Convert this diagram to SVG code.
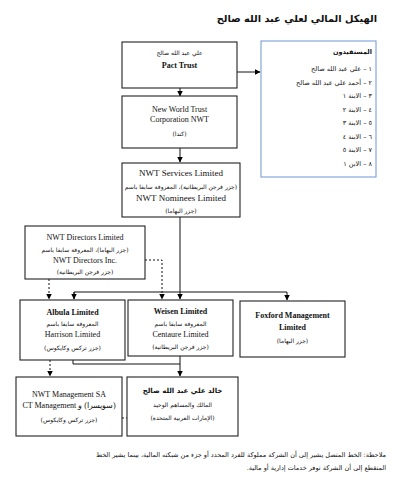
<svg xmlns="http://www.w3.org/2000/svg" width="400" height="483" viewBox="0 0 400 483">
<defs>
<marker id="ah" markerWidth="6" markerHeight="6" refX="5.5" refY="3" orient="auto" markerUnits="userSpaceOnUse">
<path d="M0,0 L6,3 L0,6 z" fill="#000"/>
</marker>
<style>
.box{fill:#fff;stroke:#222;stroke-width:1.1}
.bbox{fill:#fff;stroke:#7b9ed9;stroke-width:1.1}
.en{font-family:"Liberation Serif","Times New Roman",serif;font-size:8px;fill:#111;text-anchor:middle}
.enb{font-family:"Liberation Serif","Times New Roman",serif;font-size:8px;font-weight:bold;fill:#111;text-anchor:middle}
.ar{font-family:"DejaVu Sans","Noto Sans",sans-serif;font-size:6px;fill:#111;text-anchor:middle;direction:rtl;unicode-bidi:embed}
.arr{font-family:"DejaVu Sans","Noto Sans",sans-serif;font-size:6.5px;fill:#111;text-anchor:start;direction:rtl;unicode-bidi:embed}
.sol{fill:none;stroke:#111;stroke-width:1}
.das{fill:none;stroke:#111;stroke-width:1;stroke-dasharray:2,2}
</style>
</defs>
<rect width="400" height="483" fill="#fff"/>
<text class="arr" x="377" y="22" style="font-size:9.8px;font-weight:bold">الهيكل المالي لعلي عبد الله صالح</text>

<g id="connectors">
<path class="sol" d="M180,88 V96" marker-end="url(#ah)"/>
<path class="sol" d="M237,72 H260" marker-end="url(#ah)"/>
<path class="sol" d="M180,148 V162" marker-end="url(#ah)"/>
<path class="sol" d="M180,217 V299" marker-end="url(#ah)"/>
<path class="sol" d="M74,299 V292 H287 V300" marker-end="url(#ah)"/>
<path class="sol" d="M74,292 V299" marker-end="url(#ah)"/>
<path class="das" d="M49,279 V299" marker-end="url(#ah)"/>
<path class="das" d="M145,260 H162 V299" marker-end="url(#ah)"/>
<path class="sol" d="M73,360 V364 H180"/>
<path class="sol" d="M180,356 V376" marker-end="url(#ah)"/>
<path class="das" d="M50,360 V376" marker-end="url(#ah)"/>
<path class="das" d="M122,418 H127"/>
</g>

<g id="pact">
<rect class="box" x="122" y="42" width="115" height="46"/>
<text class="ar" x="179.5" y="55">علي عبد الله صالح</text>
<text class="enb" x="179.5" y="68">Pact Trust</text>
</g>

<g id="beneficiaries">
<rect class="bbox" x="261" y="41" width="115" height="136"/>
<text class="arr" x="372" y="54" style="font-weight:bold">المستفيدون</text>
<text class="arr" x="372" y="71">١ – علي عبد الله صالح</text>
<text class="arr" x="372" y="84.5">٢ – أحمد علي عبد الله صالح</text>
<text class="arr" x="372" y="98">٣ – الابنة ١</text>
<text class="arr" x="372" y="111.5">٤ – الابنة ٢</text>
<text class="arr" x="372" y="125">٥ – الابنة ٣</text>
<text class="arr" x="372" y="138.5">٦ – الابنة ٤</text>
<text class="arr" x="372" y="152">٧ – الابنة ٥</text>
<text class="arr" x="372" y="165.5">٨ – الابن ١</text>
</g>

<g id="nwt">
<rect class="box" x="122" y="96" width="115" height="52"/>
<text class="en" x="179.5" y="112">New World Trust</text>
<text class="en" x="179.5" y="122">Corporation NWT</text>
<text class="ar" x="179.5" y="136">(كندا)</text>
</g>

<g id="nwtservices">
<rect class="box" x="122" y="163" width="118" height="54"/>
<text class="en" x="181" y="176" style="font-size:9px">NWT Services Limited</text>
<text class="ar" x="181" y="189">(جزر فرجن البريطانية)، المعروفة سابقا باسم</text>
<text class="en" x="181" y="201" style="font-size:9px">NWT Nominees Limited</text>
<text class="ar" x="181" y="213">(جزر البهاما)</text>
</g>

<g id="nwtdirectors">
<rect class="box" x="25" y="226" width="120" height="53"/>
<text class="en" x="85" y="240">NWT Directors Limited</text>
<text class="ar" x="85" y="252">(جزر البهاما)، المعروفة سابقا باسم</text>
<text class="en" x="85" y="263">NWT Directors Inc.</text>
<text class="ar" x="85" y="274">(جزر فرجن البريطانية)</text>
</g>

<g id="albula">
<rect class="box" x="20" y="300" width="105" height="60"/>
<text class="enb" x="72.5" y="315">Albula Limited</text>
<text class="ar" x="72.5" y="326">المعروفة سابقا باسم</text>
<text class="en" x="72.5" y="337">Harrison Limited</text>
<text class="ar" x="72.5" y="350">(جزر تركس وكايكوس)</text>
</g>

<g id="weisen">
<rect class="box" x="128" y="300" width="105" height="56"/>
<text class="enb" x="180.5" y="314">Weisen Limited</text>
<text class="ar" x="180.5" y="326">المعروفة سابقا باسم</text>
<text class="en" x="180.5" y="337">Centaure Limited</text>
<text class="ar" x="180.5" y="349">(جزر فرجن البريطانية)</text>
</g>

<g id="foxford">
<rect class="box" x="240" y="301" width="105" height="56"/>
<text class="enb" x="292.5" y="318">Foxford Management</text>
<text class="enb" x="292.5" y="330">Limited</text>
<text class="ar" x="292.5" y="343">(جزر البهاما)</text>
</g>

<g id="nwtmanagement">
<rect class="box" x="16" y="377" width="106" height="59"/>
<text class="en" x="69" y="397">NWT Management SA</text>
<text class="ar" x="69" y="408"><tspan style="font-size:8px;font-family:'Liberation Serif',serif">(سويسرا) و CT Management</tspan></text>
<text class="ar" x="69" y="422">(جزر تركس وكايكوس)</text>
</g>

<g id="khalid">
<rect class="box" x="127" y="377" width="111" height="59"/>
<text class="ar" x="182.5" y="393" style="font-weight:bold;font-size:7px">خالد علي عبد الله صالح</text>
<text class="ar" x="182.5" y="407">المالك والمساهم الوحيد</text>
<text class="ar" x="182.5" y="420">(الإمارات العربية المتحدة)</text>
</g>

<g id="note">
<text class="arr" x="386" y="457">ملاحظة: الخط المتصل يشير إلى أن الشركة مملوكة للفرد المحدد أو جزء من شبكته المالية، بينما يشير الخط</text>
<text class="arr" x="386" y="470">المتقطع إلى أن الشركة توفر خدمات إدارية أو مالية.</text>
</g>
</svg>
